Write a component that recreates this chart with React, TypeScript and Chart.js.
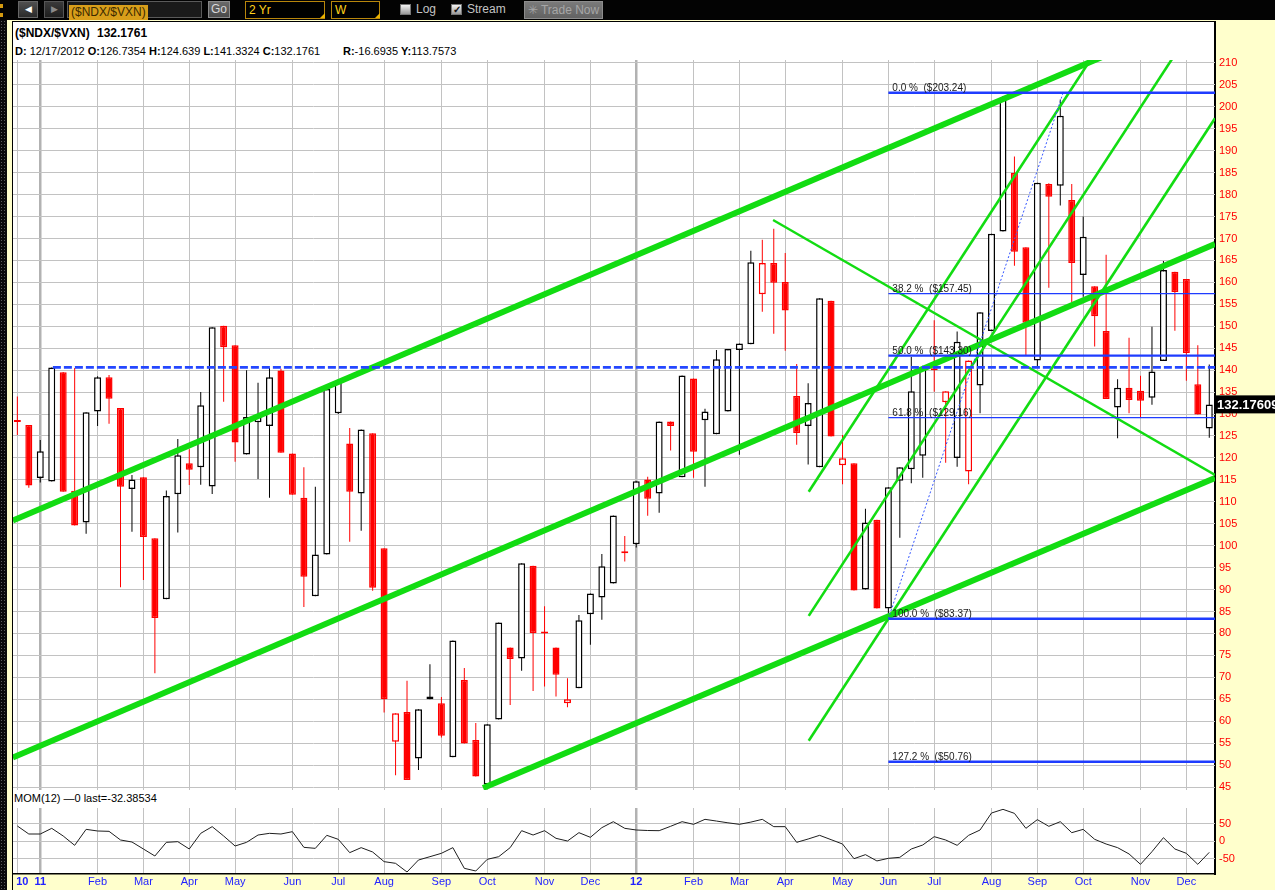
import React, { useEffect, useRef } from "react";
import { Chart, registerables } from "chart.js";

Chart.register(...registerables);

// ---------- weekly candles ($NDX/$VXN), index 0 = week of 12/20/2010 ----------
const opens = [
  128.6, 127.5, 115.4, 114.6, 139.5, 112.5, 105.3, 130.6, 138.4, 131.4,
  112.9, 115.6, 101.7, 87.8, 111.7, 118.8, 117.9, 113.5, 150.1, 145.7,
  120.8, 128.1, 127.3, 139.9, 121.0, 110.9, 88.5, 98.0, 130.2, 123.3,
  111.9, 125.6, 99.4, 55.3, 62.1, 51.5, 65.0, 64.1, 51.8, 69.4,
  55.7, 45.6, 60.4, 76.8, 74.3, 95.4, 80.3, 76.8, 64.1, 67.5,
  84.4, 88.2, 91.4, 98.5, 100.3, 115.1, 111.9, 128.3, 115.6, 138.1,
  128.6, 125.4, 130.6, 144.6, 145.9, 157.3, 164.4, 160.1, 134.1, 127.3,
  117.9, 155.8, 118.3, 118.8, 90.0, 105.9, 85.7, 114.8, 117.4, 120.5,
  140.4, 132.7, 120.0, 116.9, 136.5, 148.9, 171.6, 184.9, 168.0, 142.2,
  182.4, 182.0, 178.8, 161.7, 159.1, 148.9, 131.5, 136.0, 135.3, 133.7,
  142.1, 162.4, 160.8, 136.8, 126.7,
];
const highs = [
  134.0, 127.5, 124.1, 140.6, 139.6, 140.5, 130.4, 138.6, 138.9, 131.4,
  116.1, 115.6, 101.7, 112.6, 124.3, 122.0, 135.0, 149.8, 150.1, 145.7,
  140.0, 137.1, 140.5, 140.3, 121.0, 117.9, 113.4, 135.7, 138.0, 126.8,
  126.5, 125.6, 99.4, 61.8, 69.2, 62.7, 73.0, 65.5, 78.4, 72.1,
  59.6, 59.3, 82.5, 76.8, 96.0, 95.4, 86.2, 76.8, 69.8, 84.2,
  89.1, 98.1, 106.9, 102.2, 114.7, 115.7, 128.3, 128.3, 138.8, 138.1,
  131.2, 144.6, 144.8, 146.1, 167.2, 169.7, 172.2, 166.7, 141.4, 137.0,
  156.4, 155.8, 125.2, 118.8, 108.4, 105.9, 113.3, 117.9, 143.0, 141.0,
  151.4, 135.2, 148.8, 142.2, 153.2, 171.1, 202.5, 188.7, 168.0, 182.7,
  182.6, 201.7, 182.4, 175.0, 159.1, 166.3, 137.9, 147.4, 138.7, 149.9,
  164.9, 162.4, 160.8, 145.7, 141.3,
];
const lows = [
  125.2, 113.2, 114.4, 114.6, 112.3, 104.6, 102.7, 127.3, 127.8, 90.5,
  103.2, 92.2, 70.9, 87.8, 103.0, 113.8, 113.9, 111.8, 132.8, 119.1,
  120.8, 115.2, 110.9, 121.2, 111.6, 86.0, 88.5, 98.0, 130.0, 100.9,
  103.4, 89.7, 62.0, 47.7, 46.6, 48.9, 65.0, 56.3, 51.8, 54.9,
  47.4, 45.5, 60.4, 63.7, 71.5, 66.9, 67.9, 65.6, 63.2, 67.5,
  77.4, 83.1, 91.4, 96.4, 99.6, 106.8, 107.5, 121.7, 115.6, 115.5,
  113.4, 125.4, 130.6, 120.7, 145.9, 153.3, 148.3, 144.4, 123.0, 118.5,
  117.9, 124.9, 114.0, 89.8, 90.0, 85.7, 84.5, 101.8, 114.2, 115.5,
  135.1, 118.9, 118.0, 114.0, 130.2, 148.9, 171.6, 163.8, 143.3, 140.5,
  158.8, 177.5, 155.5, 156.7, 145.4, 133.4, 124.5, 130.2, 129.2, 132.1,
  142.1, 149.0, 137.6, 129.9, 124.6,
];
const closes = [
  128.2, 113.7, 121.5, 140.6, 112.3, 104.6, 130.4, 138.4, 133.5, 113.4,
  115.1, 102.0, 83.5, 111.3, 120.6, 117.3, 132.0, 149.8, 145.2, 123.5,
  129.3, 129.6, 138.4, 121.2, 111.6, 92.9, 98.0, 135.7, 137.6, 112.3,
  126.5, 90.4, 65.0, 61.8, 46.6, 62.7, 65.6, 56.7, 78.4, 54.9,
  47.4, 59.3, 82.5, 74.2, 96.0, 80.1, 80.0, 70.6, 65.0, 83.0,
  89.1, 95.3, 106.9, 98.3, 114.7, 110.7, 128.3, 127.3, 138.8, 121.4,
  130.6, 142.5, 144.8, 146.1, 164.6, 164.4, 159.9, 153.6, 125.7, 132.5,
  156.4, 124.9, 119.9, 89.8, 105.3, 85.7, 113.3, 117.9, 135.2, 140.8,
  140.0, 135.2, 146.5, 142.2, 153.2, 171.1, 201.6, 167.0, 150.8, 182.7,
  179.5, 198.0, 164.4, 170.4, 152.3, 133.4, 136.0, 133.2, 133.0, 139.7,
  162.8, 157.8, 143.9, 129.9, 132.2,
];

// ---------- MOM(12) ----------
const momentum = [
  42.9, 20, 20, 36.2, 14.3, -12.4, 33.3, 28.6, 27.6, 2.9,
  -2.9, -22.9, -42.9, -3.8, -1.9, -22.9, 21.9, 41, 14.3, -14.3,
  -3.8, 17.1, 21.9, 20, 26.7, -18.1, -21, 16.2, 4.8, -33.3,
  -19, -31.4, -59, -63.8, -88.6, -54.3, -44.8, -35.2, -19, -78.1,
  -85.7, -52.4, -44.8, -19, 29.5, 17.1, 29.5, 7.6, 0, 23.8,
  10.5, 38.1, 55.2, 36.2, 31.4, 30, 29.5, 42, 55.2, 47.6,
  61.9, 57, 52, 47.6, 54, 61.9, 41, 41, -3.8, 5.7,
  16.2, 3.8, -8.6, -50.5, -39, -57, -49.5, -46.7, -22.9, -11.4,
  12.4, 2.9, -12.4, 16.2, 31.4, 80, 90.5, 79, 36.2, 61,
  41.9, 55.2, 23.8, 33.3, 4.8, -8.6, -19, -37, -66.7, -30.5,
  9.5, -22.9, -35.2, -66.7, -32.4,
];

// ---------- axes ----------
const monthTickIdx = [0, 2, 7, 11, 15, 19, 24, 28, 32, 37, 41, 46, 50, 54, 59, 63, 67, 72, 76, 80, 85, 89, 93, 98, 102];
const monthTickLabels = ["10", "11", "Feb", "Mar", "Apr", "May", "Jun", "Jul", "Aug", "Sep", "Oct", "Nov", "Dec", "12", "Feb", "Mar", "Apr", "May", "Jun", "Jul", "Aug", "Sep", "Oct", "Nov", "Dec"];
const yearTickIdx = [2, 54];
const yearLabels = ["10", "11", "12"];
const priceTicks = [45, 50, 55, 60, 65, 70, 75, 80, 85, 90, 95, 100, 105, 110, 115, 120, 125, 130, 135, 140, 145, 150, 155, 160, 165, 170, 175, 180, 185, 190, 195, 200, 205, 210];
const momTicks = [50, 0, -50];

// ---------- drawings (index, value) ----------
const channelUpper = [[-0.4, 105.73], [95, 211.76]];
const channelMiddle = [[-0.4, 51.72], [104.5, 168.75]];
const channelLower = [[40.64, 44.78], [104.5, 115.41]];
const fanDown = [[65.94, 174.22], [104.5, 116.11]];
const pitchA = [[69.05, 112.3], [94.0, 212.2]];
const pitchB = [[69.05, 84.0], [101.0, 211.9]];
const pitchC = [[69.05, 55.56], [104.5, 197.4]];
const resistance = [[3.1, 140.65], [104.5, 140.65]];
const fibDiagonal = [[76, 83.37], [91.25, 203.24]];
const fibStart = 76;
const fibLevels = [203.24, 157.45, 143.3, 129.16, 83.37, 50.76];
const fibLabels = ["0.0 %  ($203.24)", "38.2 %  ($157.45)", "50.0 %  ($143.30)", "61.8 %  ($129.16)", "100.0 %  ($83.37)", "127.2 %  ($50.76)"];
const fibWidths = [2.5, 1.3, 2.2, 1.3, 2.5, 2.5];
const lastLabel = "132.17609";

const X_MIN = -0.38;
const X_MAX = 104.5;
const FONT = '"Liberation Sans", Arial, sans-serif';
const GREEN = "#12dc12";
const BLUE = "#1f3cff";
const GRID = "#c2c2c2";

const strokeColor = (i: number) => (i > 0 && closes[i] >= closes[i - 1] ? "#000000" : "#ff0000");
const pts = (a: number[][]) => a.map(([x, y]) => ({ x, y }));

const lineDs = (data: number[][], color: string, width: number, extra: any = {}) => ({
  type: "line",
  data: pts(data),
  borderColor: color,
  borderWidth: width,
  pointRadius: 0,
  tension: 0,
  order: 1,
  ...extra,
});

const zeroPad = (s: any) => {
  s.paddingTop = 0;
  s.paddingBottom = 0;
  s.paddingLeft = 0;
  s.paddingRight = 0;
};

export default function App() {
  const priceRef = useRef<HTMLCanvasElement>(null);
  const momRef = useRef<HTMLCanvasElement>(null);

  useEffect(() => {
    const overlay = {
      id: "overlay",
      afterDatasetsDraw(chart: any) {
        const { ctx, scales, chartArea } = chart;
        const x = scales.x;
        const y = scales.y;
        ctx.save();
        ctx.font = `10px ${FONT}`;
        ctx.fillStyle = "#1a1a1a";
        ctx.textBaseline = "bottom";
        ctx.textAlign = "left";
        fibLevels.forEach((lvl, k) => {
          ctx.fillText(fibLabels[k], x.getPixelForValue(fibStart) + 4, y.getPixelForValue(lvl) + 1);
        });
        const py = y.getPixelForValue(closes[closes.length - 1]);
        ctx.fillStyle = "#000";
        ctx.fillRect(chartArea.right + 1, py - 9, 80, 18);
        ctx.fillStyle = "#fff";
        ctx.font = `bold 13px ${FONT}`;
        ctx.textBaseline = "middle";
        ctx.fillText(lastLabel, chartArea.right + 2, py + 1);
        ctx.restore();
      },
    };

    const price = new Chart(priceRef.current as HTMLCanvasElement, {
      type: "bar",
      data: {
        datasets: [
          lineDs(resistance, "#2447ff", 2.8, { borderDash: [8, 3] }),
          ...fibLevels.map((lvl, k) => lineDs([[fibStart, lvl], [X_MAX, lvl]], BLUE, fibWidths[k])),
          lineDs(fibDiagonal, "#3355ff", 1, { borderDash: [2, 2] }),
          lineDs(channelUpper, GREEN, 6),
          lineDs(channelMiddle, GREEN, 6),
          lineDs(channelLower, GREEN, 6),
          lineDs(fanDown, GREEN, 2.4),
          lineDs(pitchA, GREEN, 2.6),
          lineDs(pitchB, GREEN, 2.6),
          lineDs(pitchC, GREEN, 2.6),
          {
            type: "bar",
            data: highs.map((h, i) => ({ x: i, y: [lows[i], h] })),
            backgroundColor: highs.map((_, i) => strokeColor(i)),
            borderWidth: 0,
            barThickness: 1,
            grouped: false,
            inflateAmount: 0,
            order: 11,
          },
          {
            type: "bar",
            data: opens.map((o, i) => ({ x: i, y: [Math.min(o, closes[i]), Math.max(o, closes[i])] })),
            backgroundColor: opens.map((o, i) => (closes[i] < o ? "#ff0000" : "#ffffff")),
            borderColor: opens.map((_, i) => strokeColor(i)),
            borderWidth: 1.5,
            borderSkipped: false,
            barThickness: 7,
            minBarLength: 2,
            grouped: false,
            inflateAmount: 0,
            order: 10,
          },
        ] as any,
      },
      options: {
        animation: false,
        responsive: false,
        events: [],
        layout: { padding: { top: 10, bottom: 5, left: 0, right: 0 } },
        plugins: { legend: { display: false }, tooltip: { enabled: false } },
        scales: {
          x: {
            type: "linear",
            min: X_MIN,
            max: X_MAX,
            offset: false,
            afterBuildTicks: (s: any) => {
              s.ticks = monthTickIdx.map((v) => ({ value: v }));
            },
            afterFit: (s: any) => {
              s.height = 0;
              zeroPad(s);
            },
            ticks: { display: false },
            grid: {
              offset: false,
              drawTicks: false,
              color: (c: any) => (yearTickIdx.includes(c.tick?.value) ? "#b2b2b2" : GRID),
              lineWidth: (c: any) => (yearTickIdx.includes(c.tick?.value) ? 2.5 : 1),
            },
            border: { display: false },
          },
          y: {
            type: "linear",
            position: "right",
            min: 44.32,
            max: 210.68,
            afterBuildTicks: (s: any) => {
              s.ticks = priceTicks.map((v) => ({ value: v }));
            },
            afterFit: (s: any) => {
              s.width = 60;
              zeroPad(s);
            },
            ticks: { color: "#ff0000", font: { family: FONT, size: 11 }, padding: 4, autoSkip: false },
            grid: { color: GRID, lineWidth: 1, drawTicks: false },
            border: { display: false },
          },
        },
      } as any,
      plugins: [overlay],
    });

    const xLabels = {
      id: "xLabels",
      afterDraw(chart: any) {
        const { ctx, scales, chartArea } = chart;
        ctx.save();
        ctx.fillStyle = "#2222ff";
        ctx.textAlign = "center";
        ctx.textBaseline = "middle";
        monthTickIdx.forEach((v, k) => {
          const lab = monthTickLabels[k];
          const isYear = yearLabels.includes(lab);
          ctx.font = `${isYear ? "bold " : ""}11px ${FONT}`;
          const px = scales.x.getPixelForValue(v) + (k === 0 ? 5 : 0);
          ctx.fillText(lab, px, chartArea.bottom + 8);
        });
        ctx.restore();
      },
    };

    const mom = new Chart(momRef.current as HTMLCanvasElement, {
      type: "line",
      data: {
        datasets: [
          {
            data: momentum.map((m, i) => ({ x: i, y: m })),
            borderColor: "#1e1e1e",
            borderWidth: 1,
            pointRadius: 0,
            tension: 0,
          },
        ],
      },
      options: {
        animation: false,
        responsive: false,
        events: [],
        layout: { padding: 0 },
        plugins: { legend: { display: false }, tooltip: { enabled: false } },
        scales: {
          x: {
            type: "linear",
            min: X_MIN,
            max: X_MAX,
            offset: false,
            afterBuildTicks: (s: any) => {
              s.ticks = monthTickIdx.map((v) => ({ value: v }));
            },
            afterFit: (s: any) => {
              s.height = 16;
              zeroPad(s);
            },
            ticks: { display: false },
            grid: {
              offset: false,
              drawTicks: false,
              color: (c: any) => (yearTickIdx.includes(c.tick?.value) ? "#b2b2b2" : GRID),
              lineWidth: (c: any) => (yearTickIdx.includes(c.tick?.value) ? 2.5 : 1),
            },
            border: { display: true, color: "#000", width: 1.5 },
          },
          y: {
            type: "linear",
            position: "right",
            min: -94.3,
            max: 94.3,
            afterBuildTicks: (s: any) => {
              s.ticks = momTicks.map((v) => ({ value: v }));
            },
            afterFit: (s: any) => {
              s.width = 60;
              zeroPad(s);
            },
            ticks: { color: "#ff0000", font: { family: FONT, size: 11 }, padding: 4, autoSkip: false },
            grid: { color: GRID, lineWidth: 1, drawTicks: false },
            border: { display: false },
          },
        },
      } as any,
      plugins: [xLabels],
    });

    return () => {
      price.destroy();
      mom.destroy();
    };
  }, []);

  const abs = (s: React.CSSProperties): React.CSSProperties => ({ position: "absolute", ...s });
  const tbText: React.CSSProperties = { fontFamily: FONT, fontSize: 12, lineHeight: "17px", whiteSpace: "pre" };

  return (
    <div style={abs({ left: 0, top: 0, width: 1275, height: 890, background: "#FFFFCC", overflow: "hidden", fontFamily: FONT })}>
      {/* toolbar */}
      <div style={abs({ left: 0, top: 0, width: 1275, height: 20, background: "#030303" })} />
      <div style={abs({ left: 0, top: 4, width: 3, height: 4, background: "#d49a10" })} />
      <div style={abs({ left: 0, top: 13, width: 3, height: 4, background: "#d49a10" })} />
      <div style={abs({ left: 18, top: 1, width: 20, height: 17, background: "linear-gradient(#505050,#2a2a2a)", border: "1px solid #666", boxSizing: "border-box", color: "#fff", fontSize: 9, textAlign: "center", lineHeight: "15px" })}>◀</div>
      <div style={abs({ left: 44, top: 1, width: 20, height: 17, background: "linear-gradient(#3a3a3a,#1e1e1e)", border: "1px solid #555", boxSizing: "border-box", color: "#8a8a8a", fontSize: 9, textAlign: "center", lineHeight: "15px" })}>▶</div>
      <div style={abs({ left: 67, top: 1, width: 135, height: 17, background: "#1a1a1a", border: "1px solid #5a5a5a", boxSizing: "border-box" })}>
        <span style={{ ...tbText, display: "inline-block", background: "#d89e1a", color: "#3b2a00", padding: "0 2px", lineHeight: "15px", marginLeft: 1 }}>($NDX/$VXN)</span>
      </div>
      <div style={abs({ left: 208, top: 1, width: 22, height: 17, background: "linear-gradient(#6a6a6a,#4a4a4a)", border: "1px solid #8a8a8a", boxSizing: "border-box", ...tbText, lineHeight: "15px", color: "#d8d8d8", textAlign: "center" })}>Go</div>
      <div style={abs({ left: 245, top: 1, width: 80, height: 18, background: "#000", border: "1px solid #b8860b", boxSizing: "border-box", ...tbText, lineHeight: "16px", color: "#ffd21a", paddingLeft: 3 })}>2 Yr</div>
      <div style={abs({ left: 320, top: 13, width: 0, height: 0, borderLeft: "5px solid transparent", borderBottom: "5px solid #e8b000" })} />
      <div style={abs({ left: 331, top: 1, width: 49, height: 18, background: "#000", border: "1px solid #b8860b", boxSizing: "border-box", ...tbText, lineHeight: "16px", color: "#ffd21a", paddingLeft: 3 })}>W</div>
      <div style={abs({ left: 375, top: 13, width: 0, height: 0, borderLeft: "5px solid transparent", borderBottom: "5px solid #e8b000" })} />
      <div style={abs({ left: 400, top: 4, width: 11, height: 11, background: "linear-gradient(#f4f4f4,#9a9a9a)", border: "1px solid #777", boxSizing: "border-box" })} />
      <div style={abs({ left: 416, top: 1, ...tbText, color: "#c4c4c4" })}>Log</div>
      <div style={abs({ left: 451, top: 4, width: 11, height: 11, background: "linear-gradient(#f4f4f4,#9a9a9a)", border: "1px solid #777", boxSizing: "border-box", color: "#111", fontSize: 10, lineHeight: "9px", textAlign: "center", fontWeight: "bold" })}>✓</div>
      <div style={abs({ left: 467, top: 1, ...tbText, color: "#c4c4c4" })}>Stream</div>
      <div style={abs({ left: 524, top: 1, width: 79, height: 18, background: "linear-gradient(#7a7a7a,#626262)", border: "1px solid #8c8c8c", boxSizing: "border-box", ...tbText, lineHeight: "16px", color: "#a6a6a6", textAlign: "center" })}>✳ Trade Now</div>

      {/* frame */}
      <div style={abs({ left: 0, top: 20, width: 7, height: 870, background: "#0a0a0a", backgroundImage: "radial-gradient(circle, #5a5a5a 0.7px, transparent 1px)", backgroundSize: "3px 3px" })} />
      <div style={abs({ left: 13, top: 22, width: 1202, height: 852, background: "#ffffff" })} />
      <div style={abs({ left: 12, top: 21, width: 1203, height: 1, background: "#000" })} />
      <div style={abs({ left: 12, top: 21, width: 1, height: 869, background: "#000" })} />
      <div style={abs({ left: 1214, top: 21, width: 1.5, height: 854, background: "#000" })} />

      {/* header */}
      <div style={abs({ left: 15, top: 26, fontSize: 12, fontWeight: "bold", color: "#000", whiteSpace: "pre" })}>($NDX/$VXN)</div>
      <div style={abs({ left: 97, top: 26, fontSize: 12, fontWeight: "bold", color: "#000", whiteSpace: "pre" })}>132.1761</div>
      <div style={abs({ left: 15, top: 45, fontSize: 11, color: "#000", whiteSpace: "pre" })}>
        <b>D:</b> 12/17/2012 <b>O:</b>126.7354 <b>H:</b>124.639 <b>L:</b>141.3324 <b>C:</b>132.1761
      </div>
      <div style={abs({ left: 343, top: 45, fontSize: 11, color: "#000", whiteSpace: "pre" })}>
        <b>R:</b>-16.6935 <b>Y:</b>113.7573
      </div>

      {/* MOM label */}
      <div style={abs({ left: 14, top: 792, fontSize: 11, color: "#000", whiteSpace: "pre" })}>MOM(12) —0 last=-32.38534</div>

      <canvas ref={priceRef} width={1262} height={745} style={abs({ left: 13, top: 50 })} />
      <canvas ref={momRef} width={1262} height={82} style={abs({ left: 13, top: 808 })} />
    </div>
  );
}
